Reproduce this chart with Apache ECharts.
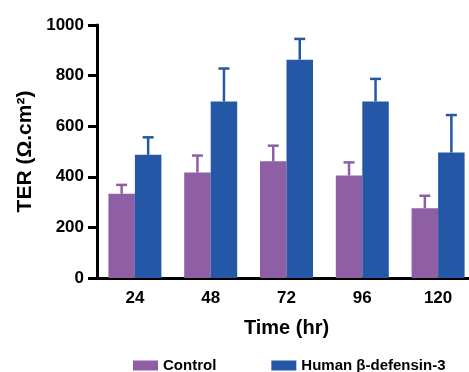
<!DOCTYPE html>
<html>
<head>
<meta charset="utf-8">
<script src="https://cdn.jsdelivr.net/npm/echarts@6/dist/echarts.min.js"></script>
<style>html,body{margin:0;padding:0;background:#fff}#c{width:469px;height:372px}</style>
</head>
<body>
<div id="c"></div>
<script>
const categories = ['24', '48', '72', '96', '120'];
const controlMean = [333, 417, 461, 405, 276];
const controlErr = [35, 67, 62, 52, 49];
const hbdMean = [487, 698, 863, 698, 496];
const hbdErr = [69, 130, 82, 89, 148];
const yTicks = [0, 200, 400, 600, 800, 1000];

const purple = '#8E5FA5';
const blue = '#2457A5';
const FONT = 'Liberation Sans, Arial, Helvetica, sans-serif';
const BW = 26.5;

function errSeries(name, means, errs, color, offset) {
  return {
    type: 'custom',
    name: name + ' err',
    z: 5,
    silent: true,
    data: means.map((m, i) => [i, m, m + errs[i]]),
    renderItem: function (params, api) {
      const lo = api.coord([api.value(0), api.value(1)]);
      const hi = api.coord([api.value(0), api.value(2)]);
      const x = lo[0] + offset;
      const cap = 5.5;
      return {
        type: 'group',
        children: [
          { type: 'line', shape: { x1: x, y1: lo[1], x2: x, y2: hi[1] }, style: { stroke: color, lineWidth: 2.5 } },
          { type: 'line', shape: { x1: x - cap, y1: hi[1], x2: x + cap, y2: hi[1] }, style: { stroke: color, lineWidth: 2.5 } }
        ]
      };
    }
  };
}

const chart = echarts.init(document.getElementById('c'), null, { renderer: 'canvas' });
chart.setOption({
  animation: false,
  backgroundColor: '#fff',
  grid: { left: 97, top: 25, width: 379, height: 253, containLabel: false, outerBoundsMode: 'none' },
  legend: {
    left: 128, top: 353,
    itemWidth: 25, itemHeight: 10, itemGap: 55,
    icon: 'rect',
    textStyle: { fontFamily: FONT, fontWeight: 'bold', fontSize: 15, color: '#000' },
    data: ['Control', 'Human β-defensin-3']
  },
  xAxis: {
    type: 'category',
    data: categories,
    name: 'Time (hr)',
    nameLocation: 'middle',
    nameGap: 40,
    nameTextStyle: { fontFamily: FONT, fontWeight: 'bold', fontSize: 20, color: '#000' },
    axisLine: { lineStyle: { color: '#000', width: 3 } },
    axisTick: { show: false },
    axisLabel: { fontFamily: FONT, fontWeight: 'bold', fontSize: 17, color: '#000', margin: 12 }
  },
  yAxis: {
    type: 'value',
    min: yTicks[0], max: yTicks[yTicks.length - 1], interval: 200,
    name: 'TER (Ω.cm²)',
    nameLocation: 'middle',
    nameGap: 52,
    nameTextStyle: { fontFamily: FONT, fontWeight: 'bold', fontSize: 21, color: '#000' },
    axisLine: { show: true, lineStyle: { color: '#000', width: 3 } },
    axisTick: { show: true, length: 9, lineStyle: { color: '#000', width: 3 } },
    splitLine: { show: false },
    axisLabel: { fontFamily: FONT, fontWeight: 'bold', fontSize: 17, color: '#000', margin: 13, formatter: v => String(v) }
  },
  series: [
    { name: 'Control', type: 'bar', data: controlMean, barWidth: BW, barGap: '0%', itemStyle: { color: purple } },
    { name: 'Human β-defensin-3', type: 'bar', data: hbdMean, barWidth: BW, barGap: '0%', itemStyle: { color: blue } },
    errSeries('Control', controlMean, controlErr, purple, -BW / 2),
    errSeries('Human β-defensin-3', hbdMean, hbdErr, blue, BW / 2)
  ]
});
</script>
</body>
</html>
